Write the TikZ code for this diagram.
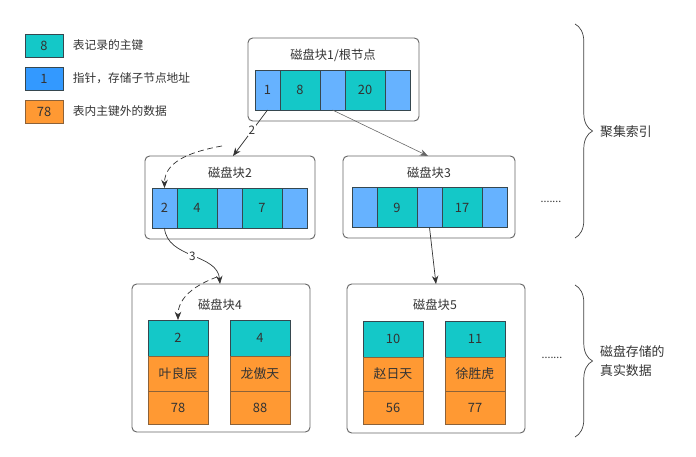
\documentclass[tikz,border=0pt]{standalone}
\usepackage{fontspec}
\setmainfont{Noto Sans CJK SC}
\usetikzlibrary{arrows.meta, positioning, decorations.pathreplacing}
\definecolor{keycyan}{HTML}{14C8C8}
\definecolor{ptrblue}{HTML}{66B2FF}
\definecolor{legblue}{HTML}{3399FF}
\definecolor{datorange}{HTML}{FF9933}
\definecolor{cellline}{HTML}{36474F}
\definecolor{orangeline}{HTML}{8C6239}
\definecolor{boxline}{HTML}{666666}
\definecolor{txt}{HTML}{333333}

\begin{document}
\begin{tikzpicture}[x=0.03cm, y=-0.03cm,
    every node/.style={font=\fontsize{10}{12}\selectfont, text=txt},
    cell/.style={draw=cellline, line width=0.8pt, inner sep=0pt, outer sep=0pt,
        minimum height=1.2cm, font=\fontsize{11}{13}\selectfont},
    ptr/.style={cell, fill=ptrblue, minimum width=0.75cm},
    key/.style={cell, fill=keycyan, minimum width=1.2cm},
    keyrec/.style={cell, fill=keycyan, minimum width=1.8cm, minimum height=1.08cm},
    datrec/.style={cell, draw=orangeline, fill=datorange, minimum width=1.8cm},
    legbox/.style={cell, minimum width=1.14cm, minimum height=0.69cm},
    blockbox/.style={draw=boxline, line width=0.8pt, rounded corners=4pt, fill=white, inner sep=0pt},
    title/.style={font=\fontsize{10.5}{12}\selectfont},
    lab/.style={font=\fontsize{10}{12}\selectfont},
    side/.style={font=\fontsize{11}{16.5}\selectfont, anchor=west, align=left},
    etc/.style={font=\fontsize{9}{11}\selectfont},
    link/.style={draw=black!80, line width=0.6pt, -{Stealth[length=7pt,width=5.5pt]}},
    dashlink/.style={link, dash pattern=on 5pt off 3pt},
    hop/.style={fill=white, inner sep=1pt},
    curly/.style={decorate, decoration={brace, amplitude=15pt}, draw=black!75, line width=0.6pt},
]

\useasboundingbox (0,0) rectangle (696,457);

% legend
\foreach \y/\f/\l/\n/\t [count=\i] in {
    45.5/keycyan/cellline/8/表记录的主键,
    78.5/legblue/cellline/1/{指针，存储子节点地址},
    111.5/datorange/orangeline/78/表内主键外的数据}{
    \node[legbox, fill=\f, draw=\l] (leg\i) at (44,\y) {\n};
    \node[lab, right=5pt of leg\i] (legt\i) {\t};
}

% root block
\node[blockbox, minimum width=5.13cm, minimum height=2.49cm] (blk1) at (333.5,79.5) {};
\node[title] (t1) at (333,55) {磁盘块1/根节点};
\node[ptr, anchor=west] (r1) at (255,90) {1};
\node[key, right=0pt of r1] (r8) {8};
\node[ptr, right=0pt of r8] (r2) {};
\node[key, right=0pt of r2] (r20) {20};
\node[ptr, right=0pt of r20] (r3) {};

% second level
\node[blockbox, minimum width=5.1cm, minimum height=2.49cm] (blk2) at (230,197.5) {};
\node[title] (t2) at (230,173) {磁盘块2};
\node[ptr, anchor=west] (c2) at (152,208) {2};
\node[key, right=0pt of c2] (c4) {4};
\node[ptr, right=0pt of c4] (c5) {};
\node[key, right=0pt of c5] (c7) {7};
\node[ptr, right=0pt of c7] (c8) {};

\node[blockbox, minimum width=5.16cm, minimum height=2.46cm] (blk3) at (429,197) {};
\node[title] (t3) at (429,173) {磁盘块3};
\node[ptr, anchor=west] (s1) at (352,207.5) {};
\node[key, right=0pt of s1] (s9) {9};
\node[ptr, right=0pt of s9] (s2) {};
\node[key, right=0pt of s2] (s17) {17};
\node[ptr, right=0pt of s17] (s3) {};
\node[etc] (more1) at (551,202) {.......};

% leaf blocks
\node[blockbox, minimum width=5.34cm, minimum height=4.44cm] (blk4) at (221,358) {};
\node[title] (t4) at (220,305) {磁盘块4};
\node[keyrec] (k4a) at (178,338) {2};
\node[datrec, minimum height=1.05cm, below=0pt of k4a] (n4a) {叶良辰};
\node[datrec, minimum height=0.99cm, below=0pt of n4a] (v4a) {78};
\node[keyrec] (k4b) at (260,338) {4};
\node[datrec, minimum height=1.05cm, below=0pt of k4b] (n4b) {龙傲天};
\node[datrec, minimum height=0.99cm, below=0pt of n4b] (v4b) {88};

\node[blockbox, minimum width=5.34cm, minimum height=4.47cm] (blk5) at (436,358.5) {};
\node[title] (t5) at (435,305) {磁盘块5};
\node[keyrec] (k5a) at (393,339) {10};
\node[datrec, minimum height=1.02cm, below=0pt of k5a] (n5a) {赵日天};
\node[datrec, minimum height=0.99cm, below=0pt of n5a] (v5a) {56};
\node[keyrec] (k5b) at (475,339) {11};
\node[datrec, minimum height=1.02cm, below=0pt of k5b] (n5b) {徐胜虎};
\node[datrec, minimum height=0.99cm, below=0pt of n5b] (v5b) {77};
\node[etc] (more2) at (552,358) {.......};

% where the lookups land
\coordinate (in2) at (233,156);
\coordinate (in3) at (428,156);
\coordinate (in4) at (220,284);
\coordinate (in5) at (436,284);
\coordinate (from2) at (222,146);
\coordinate (from4) at (217,277);

\draw[link] (r1.south) -- node[hop, pos=0.45] {2} (in2);
\draw[link, draw=black!60, line width=0.5pt] (r2.south) -- (in3);
\draw[dashlink] (from2) to[out=190, in=90] (c2.north);
\draw[link] (c2.south) to[out=-85, in=95] node[hop] {3} (in4);
\draw[dashlink] (from4) to[out=200, in=90] (k4a.north);
\draw[link] (s2.south) -- (in5);

% braces on the right
\draw[curly] (575,24) -- (575,238);
\node[side] (idx) at (596,132) {聚集索引};
\draw[curly] (575,285) -- (575,437);
\node[side] (real) at (596,361) {磁盘存储的\\真实数据};

\end{tikzpicture}
\end{document}
